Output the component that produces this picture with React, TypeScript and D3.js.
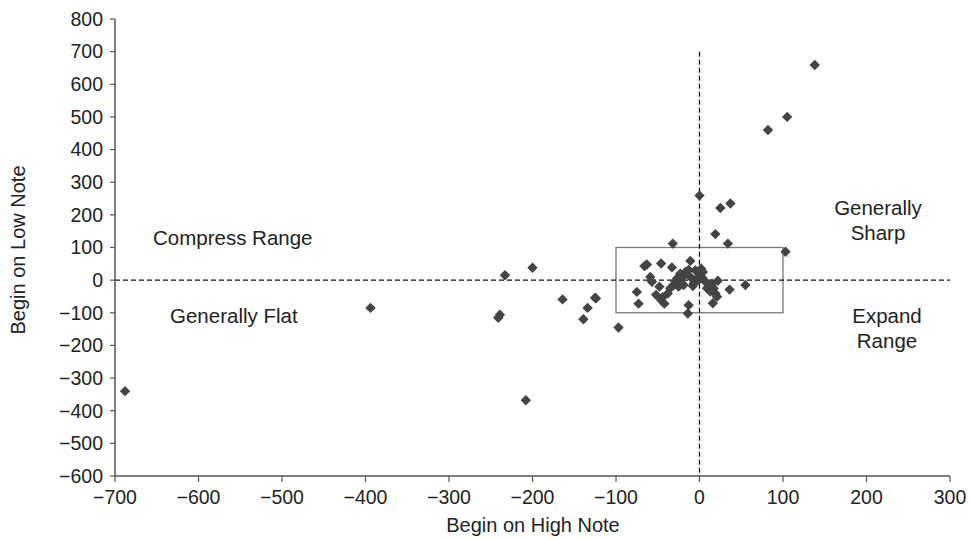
import React from "react";
import * as d3 from "d3";

const xTicks = [-700, -600, -500, -400, -300, -200, -100, 0, 100, 200, 300];
const yTicks = [800, 700, 600, 500, 400, 300, 200, 100, 0, -100, -200, -300, -400, -500, -600];

// Begin on High Note (x) values
const highNote = [
  -688, -394, -233, -200, -164, -125, -134, -139, -241, -239, -208, -97,
  0, 25, 37, 19, 34, 103, 138, 105, 82,
  -32, -66, -63, -46, -33, -11, -59, -57, -48, -75, -73, -46, -42, -38, -31,
  -27, -23, -17, -13, -11, -19, -25, -13, -14, 0, 4, -1, 7, 11, 17, 22, 19,
  21, 16, 36, 55, -124, 1, -7, 9, 15, -5, -20, -8, 3,
  -29, -35, -22, -3, 2, 13, -52, -44,
];
// Begin on Low Note (y) values
const lowNote = [
  -340, -85, 15, 38, -59, -54, -85, -120, -115, -106, -368, -145,
  259, 221, 235, 141, 112, 87, 659, 500, 460,
  112, 43, 48, 51, 39, 59, 10, -5, -20, -36, -72, -61, -72, -41, -15,
  5, 20, 25, 31, 10, -15, -20, -77, -102, 15, 25, 0, -5, -20, -25, -2, -41,
  -51, -71, -29, -15, -56, 20, -10, -25, -10, 30, 10, -18, 8,
  -5, -25, 0, 5, 35, -35, -45, -52,
];

const points = highNote.map((x, i) => ({ x, y: lowNote[i] }));

const W = 969;
const H = 539;
const font = "'Liberation Sans', Arial, Helvetica, sans-serif";

export default function App() {
  const x = d3.scaleLinear().domain([-700, 300]).range([115, 950]);
  const y = d3.scaleLinear().domain([-600, 800]).range([476, 19]);
  const diamond = d3.symbol(d3.symbolSquare, 54)() as string;
  const textColor = "#222";
  const axisColor = "#555";

  return (
    <svg width={W} height={H} style={{ position: "absolute", left: 0, top: 0, background: "#fff" }}>
      <rect x={0} y={0} width={W} height={H} fill="#fff" />
      {/* box */}
      <rect
        x={x(-100)}
        y={y(100)}
        width={x(100) - x(-100)}
        height={y(-100) - y(100)}
        fill="none"
        stroke="#777"
        strokeWidth={1.3}
      />
      {/* dashed lines */}
      <line x1={x(-700)} x2={x(300)} y1={y(0)} y2={y(0)} stroke="#111" strokeWidth={1.3} strokeDasharray="5,3" />
      <line x1={x(0)} x2={x(0)} y1={y(700)} y2={y(-600)} stroke="#111" strokeWidth={1.3} strokeDasharray="5,3" />
      {/* axes */}
      <line x1={x(-700)} x2={x(-700)} y1={y(800)} y2={y(-600)} stroke={axisColor} strokeWidth={1.5} />
      <line x1={x(-700)} x2={x(300)} y1={y(-600)} y2={y(-600)} stroke={axisColor} strokeWidth={1.5} />
      {yTicks.map((t) => (
        <g key={"y" + t}>
          <line x1={x(-700) - 5} x2={x(-700)} y1={y(t)} y2={y(t)} stroke={axisColor} strokeWidth={1.2} />
          <text
            x={x(-700) - 12}
            y={y(t)}
            dy="0.35em"
            textAnchor="end"
            fontFamily={font}
            fontSize={19.5}
            fill={textColor}
          >
            {t < 0 ? "\u2212" + Math.abs(t) : String(t)}
          </text>
        </g>
      ))}
      {xTicks.map((t) => (
        <g key={"x" + t}>
          <line x1={x(t)} x2={x(t)} y1={y(-600)} y2={y(-600) + 6} stroke={axisColor} strokeWidth={1.2} />
          <text
            x={x(t)}
            y={y(-600) + 28}
            textAnchor="middle"
            fontFamily={font}
            fontSize={19.5}
            fill={textColor}
          >
            {t < 0 ? "\u2212" + Math.abs(t) : String(t)}
          </text>
        </g>
      ))}
      {/* points */}
      {points.map((p, i) => (
        <path
          key={i}
          d={diamond}
          transform={`translate(${x(p.x)},${y(p.y)}) rotate(45)`}
          fill="#444"
        />
      ))}
      {/* annotations */}
      <g fontFamily={font} fontSize={20.5} fill={textColor}>
        <text x={153} y={245}>Compress Range</text>
        <text x={170} y={323}>Generally Flat</text>
        <text x={878} y={215} textAnchor="middle">Generally</text>
        <text x={878} y={240} textAnchor="middle">Sharp</text>
        <text x={887} y={323} textAnchor="middle">Expand</text>
        <text x={887} y={348} textAnchor="middle">Range</text>
      </g>
      {/* axis titles */}
      <text x={533} y={532} textAnchor="middle" fontFamily={font} fontSize={20} fill={textColor}>
        Begin on High Note
      </text>
      <text
        transform={`translate(25,250) rotate(-90)`}
        textAnchor="middle"
        fontFamily={font}
        fontSize={20}
        fill={textColor}
      >
        Begin on Low Note
      </text>
    </svg>
  );
}
